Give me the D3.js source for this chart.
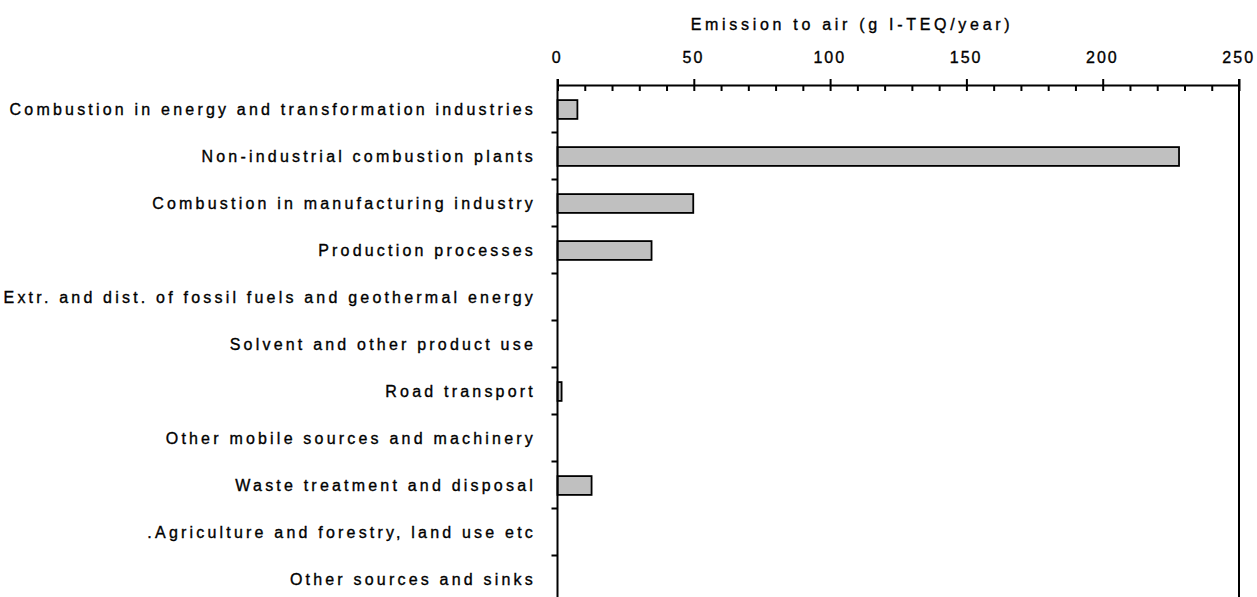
<!DOCTYPE html>
<html>
<head>
<meta charset="utf-8">
<script src="https://cdn.jsdelivr.net/npm/d3@7"></script>
<style>
  html, body { margin: 0; padding: 0; background: #fff; }
  svg text { font-family: "Liberation Sans", Arial, sans-serif; fill: #000; stroke: #000; stroke-width: 0.35px; }
</style>
</head>
<body>
<svg id="chart" width="1257" height="597"></svg>
<script>
const categories = [
  "Combustion in energy and transformation industries",
  "Non-industrial combustion plants",
  "Combustion in manufacturing industry",
  "Production processes",
  "Extr. and dist. of fossil fuels and geothermal energy",
  "Solvent and other product use",
  "Road transport",
  "Other mobile sources and machinery",
  "Waste treatment and disposal",
  ".Agriculture and forestry, land use etc",
  "Other sources and sinks"
];
const values = [7.3, 228, 49.8, 34.5, 0, 0, 1.5, 0, 12.5, 0, 0];
const majorTicks = [0, 50, 100, 150, 200, 250];
const minorTicks = d3.range(0, 251, 10);
const axisTitle = "Emission to air (g I-TEQ/year)";

const svg = d3.select("#chart");
const pLeft = 557.5, pRight = 1239, pTop = 85, pBottom = 602;

const x = d3.scaleLinear().domain([0, 250]).range([pLeft, pRight]);
const y = d3.scaleBand().domain(categories).range([pTop, pBottom]).paddingInner(0.6).paddingOuter(0.3);
const yEdges = d3.scaleLinear().domain([0, categories.length]).range([pTop, pBottom]);

// bars
svg.append("g").selectAll("rect")
  .data(categories.map((c, i) => ({c, v: values[i]})).filter(d => d.v > 0))
  .join("rect")
  .attr("x", x(0))
  .attr("y", d => y(d.c) + 1)
  .attr("width", d => x(d.v) - x(0))
  .attr("height", y.bandwidth())
  .attr("fill", "#c0c0c0")
  .attr("stroke", "#000")
  .attr("stroke-width", 1.8);

// top axis major ticks + labels
const gTop = svg.append("g").attr("transform", `translate(0,${pTop})`)
  .call(d3.axisTop(x).tickValues(majorTicks).tickSize(6).tickSizeOuter(0).tickPadding(16));
gTop.select(".domain").attr("stroke-width", 2);
gTop.selectAll(".tick line").attr("stroke-width", 2);
gTop.selectAll(".tick text")
  .style("font-size", "16px").style("letter-spacing", "2px")
  .attr("dx", "-0.05em");

// minor ticks (inside)
const gMinor = svg.append("g").attr("transform", `translate(0,${pTop})`)
  .call(d3.axisBottom(x).tickValues(minorTicks).tickSize(6).tickSizeOuter(0).tickFormat(""));
gMinor.select(".domain").remove();
gMinor.selectAll(".tick line").attr("stroke-width", 2);

// left axis
const gLeft = svg.append("g").attr("transform", `translate(${pLeft},0)`)
  .call(d3.axisLeft(yEdges).tickValues(d3.range(1, categories.length)).tickSize(6).tickSizeOuter(0).tickFormat(""));
gLeft.select(".domain").attr("stroke-width", 2).attr("d", `M0,${pTop - 6}V${pBottom}`);
gLeft.selectAll(".tick line").attr("stroke-width", 2);

// category labels
svg.append("g").selectAll("text")
  .data(categories)
  .join("text")
  .attr("x", 536)
  .attr("y", d => y(d) + y.bandwidth() / 2 + 1)
  .attr("dy", "0.35em")
  .attr("text-anchor", "end")
  .style("font-size", "16px")
  .style("letter-spacing", "3.2px")
  .text(d => d);

// right border
svg.append("line")
  .attr("x1", x(250)).attr("x2", x(250))
  .attr("y1", pTop - 6).attr("y2", pBottom)
  .attr("stroke", "#000").attr("stroke-width", 2);

// axis title
svg.append("text")
  .attr("x", 852).attr("y", 30)
  .attr("text-anchor", "middle")
  .style("font-size", "16px")
  .style("letter-spacing", "3.7px")
  .text(axisTitle);
</script>
</body>
</html>
